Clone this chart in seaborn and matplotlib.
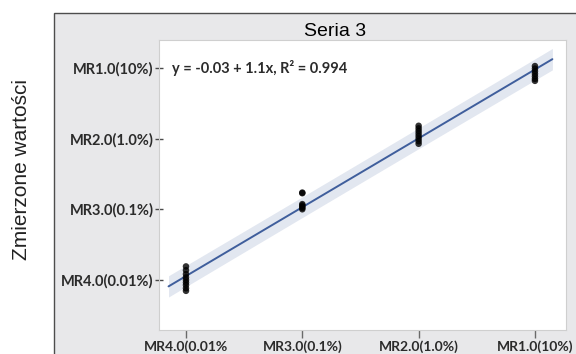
import numpy as np
import pandas as pd
import matplotlib
matplotlib.use("Agg")
import matplotlib.pyplot as plt
from matplotlib.patches import Rectangle
import seaborn as sns

# Reference materials: nominal level as log10 of concentration (%)
levels = ["MR4.0", "MR3.0", "MR2.0", "MR1.0"]
nominal_log = [-2, -1, 0, 1]
x_tick_labels = ["MR4.0(0.01%", "MR3.0(0.1%)", "MR2.0(1.0%)", "MR1.0(10%)"]
y_tick_labels = ["MR4.0(0.01%)", "MR3.0(0.1%)", "MR2.0(1.0%)", "MR1.0(10%)"]

# Measured values (log10 scale) for each reference material
mr4_measured = [-2.02, -2.08, -2.14, -2.19, -2.23, -2.27, -2.31, -2.36, -2.40]
mr3_measured = [-0.87, -0.88, -1.05, -1.07, -1.09, -1.11, -1.13]
mr2_measured = [0.17, 0.13, 0.09, 0.05, 0.01, -0.03, -0.07, -0.11]
mr1_measured = [1.10, 1.06, 1.02, 0.98, 0.94, 0.90, 0.87]

# Reported fitted line
fit_intercept = -0.03
fit_slope = 1.1
fit_r2 = 0.994

title = "Seria 3"
y_label = "Zmierzone wartości"

groups = [mr4_measured, mr3_measured, mr2_measured, mr1_measured]
df = pd.DataFrame({
    "level": np.concatenate([[lv] * len(g) for lv, g in zip(levels, groups)]),
    "nominal": np.concatenate([[x] * len(g) for x, g in zip(nominal_log, groups)]).astype(float),
    "measured": np.concatenate(groups),
})

sns.set_style("white")
plt.rcParams["font.family"] = ["Liberation Sans", "DejaVu Sans"]

W, H = 576, 354
fig = plt.figure(figsize=(W / 100, H / 100), dpi=100)
fig.patch.set_facecolor("white")

# grey panel behind the plotting area (runs off the right and bottom edges)
panel_top = 1 - 13 / H
panel = Rectangle((54 / W, -0.2), 1.2, panel_top + 0.2,
                  transform=fig.transFigure, facecolor="#e8e8ea",
                  edgecolor="#4d4d4d", linewidth=1.0, zorder=0)
fig.add_artist(panel)

left, right, top, bottom = 159, 566, 40, 330
ax = fig.add_axes([left / W, 1 - bottom / H, (right - left) / W, (bottom - top) / H])
ax.set_facecolor("white")
ax.set_zorder(1)

line_color = "#3f5e9c"
sns.regplot(data=df, x="nominal", y="measured", ax=ax, truncate=False, ci=None,
            scatter_kws=dict(s=22, color="black", edgecolors="none", zorder=3),
            line_kws=dict(color=line_color, lw=1.4, zorder=2))

# 80% prediction band around the least-squares line
x_obs = df["nominal"].to_numpy()
y_obs = df["measured"].to_numpy()
n = len(x_obs)
b1, b0 = np.polyfit(x_obs, y_obs, 1)
resid = y_obs - (b0 + b1 * x_obs)
s_res = np.sqrt(np.sum(resid ** 2) / (n - 2))
sxx = np.sum((x_obs - x_obs.mean()) ** 2)
t_80 = 1.311
xg = np.linspace(*ax.get_xlim(), 100)
half = t_80 * s_res * np.sqrt(1 + 1 / n + (xg - x_obs.mean()) ** 2 / sxx)
ax.fill_between(xg, b0 + b1 * xg - half, b0 + b1 * xg + half,
                color=line_color, alpha=0.15, linewidth=0, zorder=1)

ax.set_xlim(-2.232, 1.267)
ax.set_ylim(-3.01, 1.506)

y_tick_pos = [fit_intercept + fit_slope * v for v in nominal_log]
x_font = dict(family=["Lato", "DejaVu Sans"], weight="bold", size=10, color="#2b2b2b")
y_font = dict(family=["Lato", "DejaVu Sans"], weight="bold", size=10.5, color="#2b2b2b")
ax.set_xticks(nominal_log)
ax.set_xticklabels(x_tick_labels, fontdict=x_font)
ax.set_yticks(y_tick_pos)
ax.set_yticklabels(y_tick_labels, fontdict=y_font)
ax.tick_params(axis="x", bottom=True, direction="out", length=6, width=1,
               color="#6a6a6a", pad=1.5)
ax.tick_params(axis="y", left=True, direction="inout", length=6, width=1,
               color="#4a4a4a", pad=1)
ax.set_xlabel("")
ax.set_ylabel("")

for s in ax.spines.values():
    s.set_color("#cfcfcf")
    s.set_linewidth(0.8)

ax.text(0.032, 0.903, f"y = {fit_intercept:.2f} + {fit_slope:.1f}x, R\u00b2 = {fit_r2:.3f}",
        transform=ax.transAxes, ha="left", va="center",
        family=["Lato", "DejaVu Sans"], weight="bold", size=10.5, color="#2b2b2b")

fig.text(335 / W, 1 - 31 / H, title, ha="center", va="center", size=14, color="black")
fig.text(22 / W, 1 - 170 / H, y_label, ha="center", va="center", rotation=90,
         size=15, color="#222222")

fig.savefig("out.png", dpi=100)
